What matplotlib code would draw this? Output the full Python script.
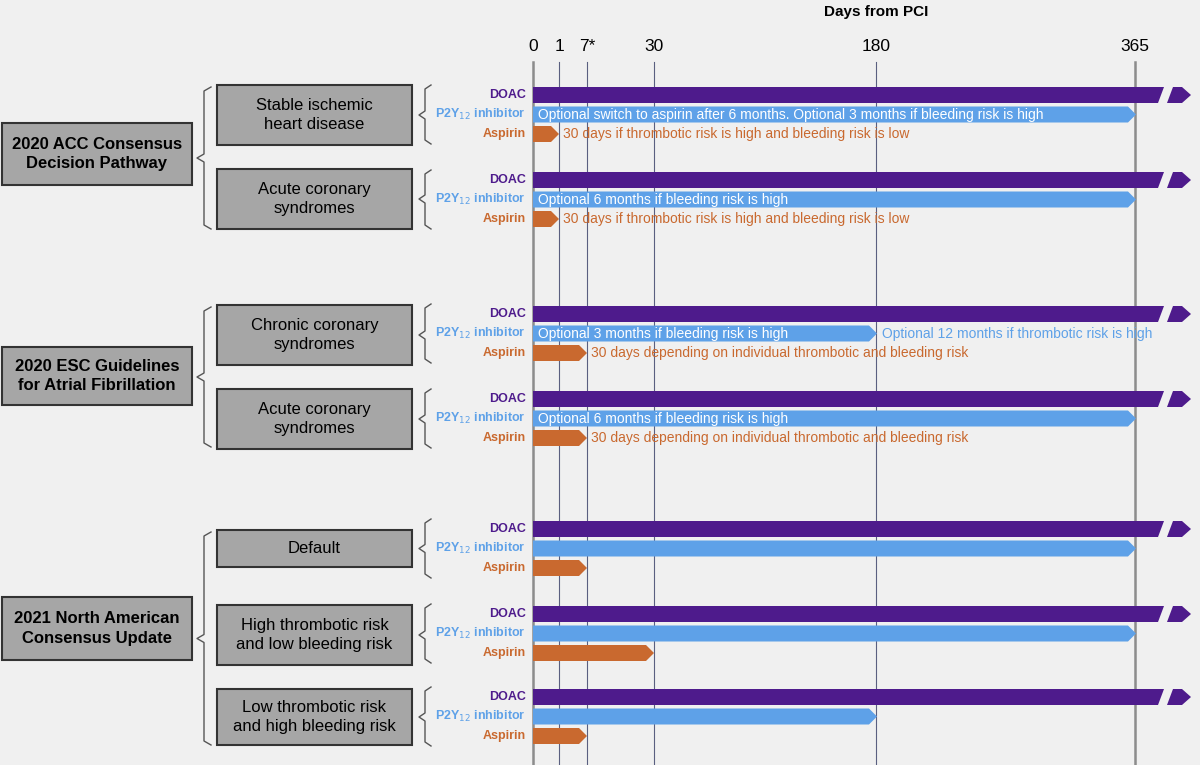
import numpy as np
import matplotlib.pyplot as plt
from matplotlib.patches import Polygon, Rectangle

plt.rcParams['font.family'] = ['Liberation Sans', 'DejaVu Sans']

PURPLE = '#4E1B8C'
BLUE = '#5EA1E8'
ORANGE = '#C9692F'
BOX = '#A6A6A6'
BG = '#F0F0F0'

# nonlinear day axis: tick days -> horizontal position
tick_days = [0, 1, 7, 30, 180, 365]
tick_pos = [533, 559, 587, 654, 876, 1135]


def dx(day):
    return float(np.interp(day, tick_days, tick_pos))


# (box label, doac y, p2y end, p2y text, p2y text2, aspirin end, aspirin text)
rows = [
    ('Stable ischemic\nheart disease', 95, 365,
     'Optional switch to aspirin after 6 months. Optional 3 months if bleeding risk is high', None,
     1, '30 days if thrombotic risk is high and bleeding risk is low'),
    ('Acute coronary\nsyndromes', 180, 365, 'Optional 6 months if bleeding risk is high', None,
     1, '30 days if thrombotic risk is high and bleeding risk is low'),
    ('Chronic coronary\nsyndromes', 314, 180, 'Optional 3 months if bleeding risk is high',
     'Optional 12 months if thrombotic risk is high',
     7, '30 days depending on individual thrombotic and bleeding risk'),
    ('Acute coronary\nsyndromes', 399, 365, 'Optional 6 months if bleeding risk is high', None,
     7, '30 days depending on individual thrombotic and bleeding risk'),
    ('Default', 529, 365, None, None, 7, None),
    ('High thrombotic risk\nand low bleeding risk', 614, 365, None, None, 30, None),
    ('Low thrombotic risk\nand high bleeding risk', 697, 180, None, None, 7, None),
]
boxes = [(85, 145), (169, 229), (305, 365), (389, 449), (530, 567), (605, 665), (689, 745)]
groups = [('2020 ACC Consensus\nDecision Pathway', 123, 185, 87, 229),
          ('2020 ESC Guidelines\nfor Atrial Fibrillation', 347, 405, 307, 447),
          ('2021 North American\nConsensus Update', 597, 660, 532, 745)]

fig = plt.figure(figsize=(12, 7.65), dpi=100, facecolor=BG)
ax = fig.add_axes([0, 0, 1, 1])
ax.set_xlim(0, 1200)
ax.set_ylim(765, 0)
ax.axis('off')

# vertical day lines
for d, p in zip(tick_days, tick_pos):
    edge = d in (0, 365)
    ax.plot([p, p], [62, 765], color='#8C8C8C' if edge else '#5A5F80',
            lw=1.8 if edge else 0.8, zorder=1)
    ax.text(p, 46, '7*' if d == 7 else str(d), ha='center', va='center', fontsize=12.5)
ax.text(876, 12, 'Days from PCI', ha='center', va='center', fontsize=11, fontweight='bold')


def arrow(x0, x1, y, color, h=16, tip=8):
    pts = [(x0, y - h / 2), (x1 - tip, y - h / 2), (x1, y), (x1 - tip, y + h / 2), (x0, y + h / 2)]
    ax.add_patch(Polygon(pts, closed=True, color=color, zorder=3, lw=0))


def doac(y, h=16):
    x0 = dx(0)
    ax.add_patch(Polygon([(x0, y - h / 2), (1164, y - h / 2), (1158, y + h / 2), (x0, y + h / 2)],
                         color=PURPLE, zorder=3, lw=0))
    ax.add_patch(Polygon([(1173, y - h / 2), (1182, y - h / 2), (1191, y), (1182, y + h / 2),
                          (1167, y + h / 2)], color=PURPLE, zorder=3, lw=0))


lab = dict(ha='right', va='center', fontsize=9, fontweight='bold')
for (name, y, pend, ptxt, ptxt2, aend, atxt), (b0, b1) in zip(rows, boxes):
    y2, y3 = y + 19.5, y + 39
    doac(y)
    arrow(dx(0), dx(pend) + 1, y2, BLUE)
    arrow(dx(0), dx(aend), y3, ORANGE)
    ax.text(526, y, 'DOAC', color=PURPLE, **lab)
    ax.text(526, y2, 'P2Y$_{12}$ inhibitor', color=BLUE, **lab)
    ax.text(526, y3, 'Aspirin', color=ORANGE, **lab)
    if ptxt:
        ax.text(538, y2, ptxt, color='white', ha='left', va='center', fontsize=10, zorder=4)
    if ptxt2:
        ax.text(882, y2, ptxt2, color=BLUE, ha='left', va='center', fontsize=10, zorder=4)
    if atxt:
        ax.text(dx(aend) + 4, y3, atxt, color=ORANGE, ha='left', va='center', fontsize=10, zorder=4)
    ax.add_patch(Rectangle((217, b0), 195, b1 - b0, fc=BOX, ec='#333333', lw=1.5, zorder=2))
    ax.text(314.5, (b0 + b1) / 2, name, ha='center', va='center', fontsize=12, linespacing=1.4)
    # right brace
    ax.plot([431, 425, 425, 419, 425, 425, 431],
            [y - 10, y - 6, (b0 + b1) / 2 - 4, (b0 + b1) / 2, (b0 + b1) / 2 + 4, y3 + 6, y3 + 10],
            color='#555555', lw=1)

for name, g0, g1, t, b in groups:
    ax.add_patch(Rectangle((2, g0), 190, g1 - g0, fc=BOX, ec='#333333', lw=1.5, zorder=2))
    ax.text(97, (g0 + g1) / 2, name, ha='center', va='center', fontsize=12,
            fontweight='bold', linespacing=1.4)
    m = (t + b) / 2
    ax.plot([211, 204, 204, 197, 204, 204, 211], [t, t + 4, m - 4, m, m + 4, b - 4, b],
            color='#555555', lw=1)

fig.savefig('out.png', dpi=100, facecolor=BG)
